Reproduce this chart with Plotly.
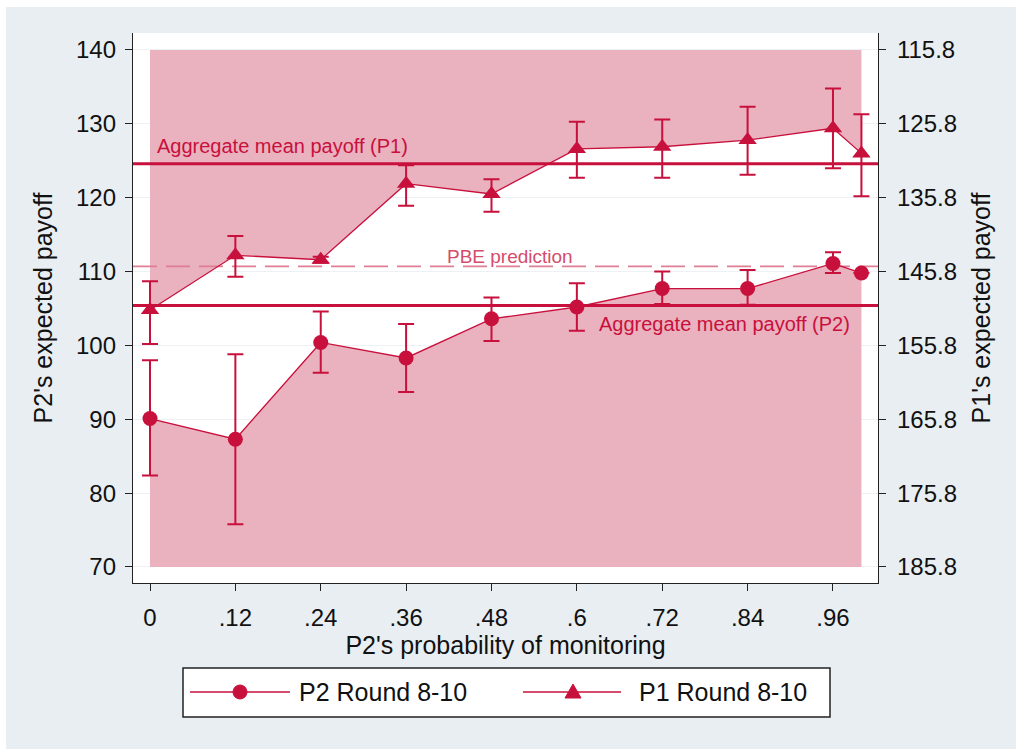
import math
import plotly.graph_objects as go

# ---- data -----------------------------------------------------------------
monitor_prob = [0.00, 0.12, 0.24, 0.36, 0.48, 0.60, 0.72, 0.84, 0.96, 1.00]
x_tick_vals = [0.00, 0.12, 0.24, 0.36, 0.48, 0.60, 0.72, 0.84, 0.96]
x_tick_text = ["0", ".12", ".24", ".36", ".48", ".6", ".72", ".84", ".96"]

# P2 expected payoff (left axis), rounds 8-10, with confidence bounds
p2_mean = [90.1, 87.3, 100.4, 98.3, 103.6, 105.2, 107.7, 107.7, 111.1, 109.8]
p2_low = [82.4, 75.8, 96.3, 93.7, 100.6, 102.0, 105.6, 105.5, 109.8, None]
p2_high = [98.0, 98.8, 104.6, 102.9, 106.5, 108.4, 110.0, 110.2, 112.6, None]

# P1 expected payoff (right axis, inverted), rounds 8-10, with confidence bounds
p1_mean = [151.0, 143.6, 144.2, 133.9, 135.3, 129.2, 128.9, 128.0, 126.4, 129.8]
p1_low = [147.1, 141.0, 143.8, 131.4, 133.3, 125.5, 125.2, 123.5, 121.0, 124.5]
p1_high = [155.6, 146.5, 144.6, 136.9, 137.7, 133.1, 133.1, 132.7, 131.8, 135.6]

agg_mean_p1 = 131.2     # P1 units
agg_mean_p2 = 105.4     # P2 units
pbe_prediction = 110.7  # P2 units

left_ticks = [70, 80, 90, 100, 110, 120, 130, 140]
right_ticks = [115.8, 125.8, 135.8, 145.8, 155.8, 165.8, 175.8, 185.8]

axis_mirror = 255.8        # P1 value = axis_mirror - P2 axis value
band_top, band_bottom = 140, 70

# ---- style ----------------------------------------------------------------
FONT = "Liberation Sans, Arial, Helvetica, sans-serif"
RED = "#c8103c"
PINK = "#eab1bf"
PBE_RED = "#de7f95"
OUTER = "#e8eef1"
X_RANGE = [-0.0239, 1.0233]
Y_RANGE = [67.83, 142.30]

# plot-area geometry in pixels, used for paper-coordinate legend drawing
W, H = 1016, 749
ML, MR, MT, MB = 133, 138, 33, 166
PW, PH = W - ML - MR, H - MT - MB


def px(xp):
    return (xp - ML) / PW


def py(yp):
    return (H - MB - yp) / PH


def err(mean, low, high):
    plus = [math.nan if h is None else h - m for m, h in zip(mean, high)]
    minus = [math.nan if l is None else m - l for m, l in zip(mean, low)]
    return plus, minus


p2_plus, p2_minus = err(p2_mean, p2_low, p2_high)
p1_plus, p1_minus = err(p1_mean, p1_low, p1_high)
p1_on_left = [axis_mirror - v for v in p1_mean]
n = len(monitor_prob)

fig = go.Figure()

# shaded band above P1 and below P2
fig.add_trace(go.Scatter(x=monitor_prob, y=[band_top] * n, mode="lines",
                         line=dict(width=0), hoverinfo="skip", showlegend=False))
fig.add_trace(go.Scatter(x=monitor_prob, y=p1_on_left, mode="lines", fill="tonexty",
                         fillcolor=PINK, line=dict(width=0), hoverinfo="skip",
                         showlegend=False))
fig.add_trace(go.Scatter(x=monitor_prob, y=[band_bottom] * n, mode="lines",
                         line=dict(width=0), hoverinfo="skip", showlegend=False))
fig.add_trace(go.Scatter(x=monitor_prob, y=p2_mean, mode="lines", fill="tonexty",
                         fillcolor=PINK, line=dict(width=0), hoverinfo="skip",
                         showlegend=False))

# reference lines
fig.add_trace(go.Scatter(x=X_RANGE, y=[pbe_prediction] * 2, mode="lines",
                         line=dict(color=PBE_RED, width=1.6, dash="24px,9px"),
                         hoverinfo="skip", showlegend=False))
fig.add_trace(go.Scatter(x=X_RANGE, y=[agg_mean_p2] * 2, mode="lines",
                         line=dict(color=RED, width=3), hoverinfo="skip",
                         showlegend=False))

# P2 series
fig.add_trace(go.Scatter(
    x=monitor_prob, y=p2_mean, mode="lines+markers", name="P2 Round 8-10",
    line=dict(color=RED, width=1.3),
    marker=dict(symbol="circle", size=15, color=RED),
    error_y=dict(type="data", symmetric=False, array=p2_plus, arrayminus=p2_minus,
                 color=RED, thickness=2, width=8),
    showlegend=False))

# P1 on the inverted right axis
fig.add_trace(go.Scatter(x=X_RANGE, y=[agg_mean_p1] * 2, mode="lines", yaxis="y2",
                         line=dict(color=RED, width=3), hoverinfo="skip",
                         showlegend=False))
fig.add_trace(go.Scatter(
    x=monitor_prob, y=p1_mean, mode="lines+markers", name="P1 Round 8-10", yaxis="y2",
    line=dict(color=RED, width=1.3),
    marker=dict(symbol="triangle-up", size=16, color=RED),
    error_y=dict(type="data", symmetric=False, array=p1_plus, arrayminus=p1_minus,
                 color=RED, thickness=2, width=8),
    showlegend=False))

# line labels
fig.add_annotation(x=0.007, y=axis_mirror - agg_mean_p1, yshift=18, xanchor="left",
                   yanchor="middle", text="Aggregate mean payoff (P1)", showarrow=False,
                   font=dict(family=FONT, size=20, color=RED))
fig.add_annotation(x=0.628, y=agg_mean_p2, yshift=-18, xanchor="left",
                   yanchor="middle", text="Aggregate mean payoff (P2)", showarrow=False,
                   font=dict(family=FONT, size=20, color=RED))
fig.add_annotation(x=0.506, y=pbe_prediction, yshift=10, xanchor="center",
                   yanchor="middle", text="PBE prediction", showarrow=False,
                   font=dict(family=FONT, size=19, color="#d44d6c"))

# legend box drawn below the plot
shapes = [
    dict(type="rect", xref="paper", yref="paper", x0=px(183), x1=px(830),
         y0=py(717), y1=py(668), fillcolor="white", line=dict(color="#222", width=1.5)),
    dict(type="line", xref="paper", yref="paper", x0=px(190), x1=px(290),
         y0=py(692), y1=py(692), line=dict(color=RED, width=1.3)),
    dict(type="circle", xref="paper", yref="paper", x0=px(233), x1=px(247),
         y0=py(699), y1=py(685), fillcolor=RED, line=dict(color=RED, width=1)),
    dict(type="line", xref="paper", yref="paper", x0=px(523), x1=px(621),
         y0=py(692), y1=py(692), line=dict(color=RED, width=1.3)),
    dict(type="path", xref="paper", yref="paper",
         path=f"M{px(565)},{py(698)} L{px(581)},{py(698)} L{px(573)},{py(684)} Z",
         fillcolor=RED, line=dict(color=RED, width=1)),
    # thin white page edge on top and left
    dict(type="rect", xref="paper", yref="paper", x0=px(0), x1=px(W), y0=py(7),
         y1=py(0), fillcolor="white", line=dict(width=0)),
    dict(type="rect", xref="paper", yref="paper", x0=px(0), x1=px(6), y0=py(H),
         y1=py(0), fillcolor="white", line=dict(width=0)),
]
fig.add_annotation(xref="paper", yref="paper", x=px(297), y=py(692), xanchor="left",
                   yanchor="middle", text="P2 Round 8-10", showarrow=False,
                   font=dict(family=FONT, size=25, color="#111"))
fig.add_annotation(xref="paper", yref="paper", x=px(637), y=py(692), xanchor="left",
                   yanchor="middle", text="P1 Round 8-10", showarrow=False,
                   font=dict(family=FONT, size=25, color="#111"))

tick_font = dict(family=FONT, size=24, color="#111")
title_font = dict(family=FONT, size=25, color="#111")

fig.update_layout(
    width=W, height=H,
    margin=dict(l=ML, r=MR, t=MT, b=MB),
    paper_bgcolor=OUTER, plot_bgcolor="white",
    shapes=shapes,
    showlegend=False,
    xaxis=dict(range=X_RANGE, tickvals=x_tick_vals, ticktext=x_tick_text,
               ticks="outside", ticklen=7, tickwidth=1.2, tickcolor="#222",
               showline=True, linecolor="#222", linewidth=1.3, showgrid=False,
               zeroline=False, tickfont=tick_font, ticklabelstandoff=6,
               title=dict(text="P2's probability of monitoring", font=title_font,
                          standoff=0),
               automargin=False),
    yaxis=dict(range=Y_RANGE, tickvals=left_ticks, ticks="outside", ticklen=7,
               tickwidth=1.2, tickcolor="#222", showline=True, linecolor="#222",
               linewidth=1.3, showgrid=True, gridcolor="#edf1f3", gridwidth=1,
               zeroline=False, tickfont=tick_font, ticklabelstandoff=4,
               title=dict(text="P2's expected payoff", font=title_font, standoff=16),
               automargin=False),
    yaxis2=dict(range=[axis_mirror - Y_RANGE[0], axis_mirror - Y_RANGE[1]],
                overlaying="y", side="right", tickvals=right_ticks,
                ticktext=[f"{v:.1f}" for v in right_ticks],
                ticks="outside", ticklen=7, tickwidth=1.2, tickcolor="#222",
                showline=True, linecolor="#222", linewidth=1.3, showgrid=False,
                zeroline=False, tickfont=tick_font, ticklabelstandoff=6,
                title=dict(text="P1's expected payoff", font=title_font, standoff=16),
                automargin=False),
)

fig.write_html("out.html")
